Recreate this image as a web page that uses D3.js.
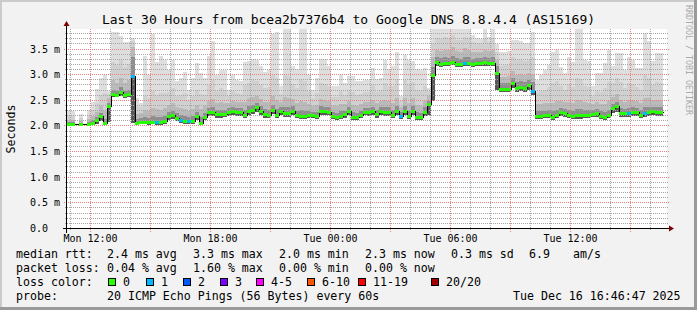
<!DOCTYPE html>
<html><head><meta charset="utf-8">
<script src="https://cdn.jsdelivr.net/npm/d3@7"></script>
<style>
html,body{margin:0;padding:0;background:#f2f2f2;}
svg{display:block;}
text{font-family:"DejaVu Sans Mono",monospace;fill:#000;}
</style></head><body>
<svg id="chart" width="697" height="310"></svg>
<script>
// ---------- data ----------
const titleText = "Last 30 Hours from bcea2b7376b4 to Google DNS 8.8.4.4 (AS15169)";
const yAxisLabel = "Seconds";
const yTickValues = [0, 0.5, 1.0, 1.5, 2.0, 2.5, 3.0, 3.5];
const yTickLabels = ["0.0", "0.5 m", "1.0 m", "1.5 m", "2.0 m", "2.5 m", "3.0 m", "3.5 m"];
const yMinorValues = [0.1,0.2,0.3,0.4,0.6,0.7,0.8,0.9,1.1,1.2,1.3,1.4,1.6,1.7,1.8,1.9,2.1,2.2,2.3,2.4,2.6,2.7,2.8,2.9,3.1,3.2,3.3,3.4,3.6,3.7,3.8];
const xTickTimes = ["2025-12-15 12:00:00", "2025-12-15 18:00:00", "2025-12-16 00:00:00", "2025-12-16 06:00:00", "2025-12-16 12:00:00"];
const xTickLabels = ["Mon 12:00", "Mon 18:00", "Tue 00:00", "Tue 06:00", "Tue 12:00"];
const rangeStartText = "2025-12-15 10:49:30";
const rangeEndText = "2025-12-16 16:49:30";
const binMinutes = 12;

// median rtt per bin (ms)
const median = [
2.04,2.04,2.04,2.04,2.04,2.04,2.06,2.12,2.20,2.06,
2.39,2.63,2.61,2.67,2.61,2.63,2.98,2.06,2.09,2.09,
2.09,2.09,2.09,2.08,2.10,2.20,2.22,2.17,2.12,2.10,
2.10,2.10,2.20,2.06,2.19,2.28,2.28,2.24,2.24,2.24,
2.28,2.31,2.28,2.28,2.22,2.31,2.32,2.38,2.31,2.24,
2.22,2.32,2.23,2.30,2.26,2.26,2.31,2.22,2.20,2.20,
2.22,2.22,2.20,2.30,2.30,2.29,2.20,2.19,2.21,2.24,
2.30,2.19,2.19,2.23,2.29,2.28,2.30,2.24,2.30,2.28,
2.29,2.23,2.30,2.20,2.30,2.20,2.30,2.18,2.18,2.28,
2.43,3.01,3.25,3.22,3.23,3.23,3.26,3.21,3.21,3.24,
3.24,3.21,3.23,3.24,3.25,3.24,3.24,3.04,2.73,2.73,
2.73,2.84,2.74,2.77,2.74,2.80,2.70,2.20,2.20,2.22,
2.22,2.18,2.22,2.28,2.26,2.22,2.20,2.22,2.22,2.22,
2.22,2.25,2.26,2.21,2.19,2.22,2.36,2.39,2.26,2.26,
2.26,2.28,2.28,2.22,2.26,2.28,2.30,2.28,2.28];

// lost pings per bin (of 20)
const lossCount = [
0,0,null,0,null,0,0,0,0,0,
0,0,0,0,0,0,1,0,0,0,
0,0,1,0,0,0,0,0,1,0,
1,0,0,0,0,0,0,0,0,0,
0,0,0,0,0,0,0,0,0,0,
0,0,0,0,0,0,0,0,0,0,
0,0,0,0,0,0,0,0,0,0,
0,0,0,0,0,0,0,0,0,0,
0,0,0,1,0,0,0,0,0,0,
0,0,0,0,0,0,0,0,0,1,
0,0,0,0,0,0,0,0,0,0,
0,0,0,0,0,0,1,0,0,0,
0,0,0,0,0,0,0,0,0,0,
0,0,0,0,0,0,0,0,0,0,
1,0,0,0,1,0,0,0,0];

// smoke: ping distribution per bin (ms)
const smokeMin = [
2.01,2.01,null,2.01,null,2.01,2.02,2.05,2.10,2.02,
2.08,2.58,2.57,2.60,2.56,2.58,2.06,2.02,2.04,2.04,
2.03,2.04,2.03,2.03,2.04,2.12,2.14,2.10,2.06,2.05,
2.05,2.05,2.12,2.02,2.12,2.20,2.20,2.17,2.17,2.18,
2.21,2.23,2.21,2.21,2.16,2.23,2.24,2.28,2.23,2.17,
2.16,2.24,2.16,2.23,2.18,2.18,2.23,2.16,2.14,2.14,
2.16,2.16,2.14,2.22,2.22,2.22,2.14,2.13,2.15,2.17,
2.22,2.13,2.13,2.16,2.22,2.21,2.22,2.17,2.22,2.20,
2.21,2.16,2.22,2.14,2.22,2.14,2.22,2.12,2.12,2.20,
2.22,2.50,3.18,3.16,3.17,3.17,3.19,3.15,3.15,3.17,
3.17,3.15,3.17,3.18,3.18,3.18,3.17,2.72,2.67,2.67,
2.67,2.74,2.68,2.70,2.68,2.72,2.62,2.14,2.14,2.16,
2.16,2.12,2.16,2.21,2.19,2.16,2.14,2.15,2.15,2.16,
2.16,2.18,2.19,2.15,2.13,2.16,2.26,2.28,2.19,2.19,
2.19,2.21,2.21,2.16,2.18,2.20,2.22,2.21,2.21];
const smokeP60 = [
2.08,2.08,null,2.07,null,2.09,2.12,2.18,2.26,2.14,
2.45,2.72,2.70,2.76,2.70,2.72,3.35,2.14,2.16,2.18,
2.17,2.20,2.18,2.18,2.20,2.28,2.30,2.26,2.22,2.20,
2.18,2.20,2.28,2.18,2.27,2.36,2.38,2.32,2.33,2.32,
2.35,2.38,2.36,2.35,2.32,2.40,2.42,2.46,2.40,2.34,
2.32,2.42,2.34,2.37,2.38,2.37,2.40,2.31,2.32,2.31,
2.30,2.29,2.28,2.39,2.38,2.37,2.28,2.27,2.30,2.31,
2.37,2.28,2.27,2.31,2.36,2.35,2.38,2.32,2.38,2.37,
2.37,2.32,2.40,2.28,2.40,2.30,2.40,2.28,2.27,2.37,
2.50,3.16,3.36,3.34,3.35,3.34,3.38,3.33,3.32,3.36,
3.35,3.32,3.33,3.34,3.36,3.34,3.35,3.18,2.84,2.84,
2.85,2.94,2.86,2.88,2.86,2.90,2.86,2.30,2.30,2.31,
2.32,2.30,2.33,2.36,2.34,2.33,2.30,2.34,2.34,2.32,
2.32,2.32,2.34,2.30,2.29,2.33,2.44,2.48,2.36,2.34,
2.36,2.37,2.36,2.32,2.38,2.38,2.38,2.37,2.37];
const smokeP75 = [
2.12,2.12,null,2.10,null,2.14,2.20,2.28,2.40,2.30,
2.55,2.90,2.85,2.95,2.85,2.90,3.55,2.24,2.26,2.32,
2.30,2.36,2.34,2.33,2.36,2.42,2.45,2.38,2.36,2.34,
2.30,2.34,2.42,2.34,2.40,2.50,2.54,2.46,2.48,2.46,
2.46,2.50,2.48,2.47,2.48,2.55,2.58,2.60,2.54,2.48,
2.48,2.60,2.52,2.48,2.58,2.56,2.54,2.46,2.50,2.48,
2.44,2.40,2.42,2.54,2.52,2.50,2.40,2.39,2.44,2.43,
2.49,2.42,2.40,2.43,2.48,2.47,2.52,2.45,2.50,2.52,
2.50,2.46,2.56,2.38,2.56,2.46,2.55,2.42,2.40,2.50,
2.60,3.35,3.50,3.48,3.50,3.49,3.54,3.47,3.46,3.52,
3.50,3.46,3.46,3.46,3.50,3.47,3.50,3.30,2.96,2.97,
2.98,3.08,3.00,3.02,3.00,3.04,3.02,2.44,2.44,2.45,
2.46,2.46,2.50,2.50,2.47,2.48,2.45,2.52,2.52,2.47,
2.46,2.44,2.47,2.44,2.44,2.50,2.58,2.64,2.52,2.48,
2.52,2.52,2.50,2.46,2.56,2.55,2.52,2.52,2.52];
const smokeP90 = [
2.20,2.20,null,2.16,null,2.22,2.32,2.45,2.62,2.65,
2.64,3.25,3.20,3.30,3.15,3.22,3.66,2.40,2.38,2.60,
2.55,2.70,2.62,2.65,2.66,2.68,2.75,2.60,2.62,2.66,
2.52,2.60,2.72,2.64,2.62,2.80,2.90,2.70,2.75,2.72,
2.60,2.70,2.66,2.64,2.80,2.85,2.90,2.88,2.80,2.74,
2.76,3.00,2.95,2.64,3.00,2.98,2.82,2.74,2.92,2.88,
2.70,2.56,2.66,2.84,2.82,2.78,2.58,2.58,2.70,2.62,
2.70,2.68,2.62,2.64,2.68,2.67,2.80,2.68,2.72,2.84,
2.78,2.78,2.92,2.50,2.90,2.82,2.86,2.72,2.70,2.78,
2.70,3.62,3.72,3.70,3.74,3.72,3.78,3.68,3.68,3.75,
3.72,3.64,3.62,3.62,3.72,3.64,3.72,3.45,3.18,3.20,
3.20,3.35,3.30,3.30,3.28,3.30,3.36,2.66,2.70,2.72,
2.76,2.84,2.88,2.78,2.72,2.82,2.76,2.95,2.92,2.78,
2.76,2.60,2.70,2.68,2.74,2.86,2.85,2.95,2.86,2.74,
2.84,2.82,2.76,2.72,3.00,2.94,2.80,2.86,2.84];
const smokeMax = [
2.32,2.30,null,2.25,null,2.32,2.48,2.73,2.95,3.00,
2.70,3.84,3.84,3.76,3.64,3.64,3.72,2.55,2.46,3.37,
3.00,3.80,3.25,3.37,3.30,3.11,3.30,2.88,2.95,3.07,
2.72,2.95,3.24,3.04,2.94,3.37,3.66,3.01,3.10,3.10,
2.72,3.00,2.90,2.88,3.25,3.28,3.32,3.30,3.17,3.07,
3.10,3.80,3.85,2.78,3.95,3.95,3.18,3.12,3.95,3.95,
3.00,2.72,2.95,3.31,3.31,3.17,2.78,2.78,3.01,2.85,
2.98,2.98,2.88,2.88,2.90,2.90,3.14,2.92,2.95,3.30,
3.12,3.17,3.46,2.60,3.40,3.30,3.27,3.12,3.10,3.14,
2.75,3.95,3.95,3.95,3.95,3.95,3.95,3.95,3.95,3.95,
3.95,3.78,3.72,3.70,3.95,3.75,3.95,3.60,3.46,3.46,
3.47,3.68,3.69,3.66,3.62,3.63,3.85,2.90,3.00,3.10,
3.20,3.45,3.50,3.15,3.05,3.35,3.25,3.95,3.95,3.30,
3.27,2.78,3.04,3.04,3.24,3.49,3.17,3.43,3.43,3.11,
3.36,3.30,3.14,3.14,3.82,3.66,3.27,3.43,3.43];

// loss colour legend
const lossLabels = ["0", "1", "2", "3", "4-5", "6-10", "11-19", "20/20"];
const lossColors = ["#26ff00", "#00b8ff", "#0059ff", "#7e00ff", "#ff00ff", "#ff5500", "#ff0000", "#a10000"];

// legend text
const rttStats = ["2.4 ms avg", "3.3 ms max", "2.0 ms min", "2.3 ms now", "0.3 ms sd", "6.9", "am/s"];
const lossStats = ["0.04 % avg", "1.60 % max", "0.00 % min", "0.00 % now"];
const probeText = "20 ICMP Echo Pings (56 Bytes) every 60s";
const stampText = "Tue Dec 16 16:46:47 2025";
const watermark = "RRDTOOL / TOBI OETIKER";

// ---------- drawing ----------
const W = 697, H = 310;
const X0 = 67, X1 = 667, Y0 = 229, Y1 = 29;
const svg = d3.select("#chart");
const parse = d3.timeParse("%Y-%m-%d %H:%M:%S");
const tStart = parse(rangeStartText), tEnd = parse(rangeEndText);
const x = d3.scaleTime().domain([tStart, tEnd]).range([X0, X1]);
const y = d3.scaleLinear().domain([0, 3.9]).range([Y0, Y1]);
const px = v => Math.floor(v) + 0.5;
const py = v => Math.round(v) - 0.5;

// background and 3D border
svg.append("rect").attr("width", W).attr("height", H).attr("fill", "#f2f2f2");
svg.append("rect").attr("x", 0).attr("y", 0).attr("width", W).attr("height", 2).attr("fill", "#cbcbcb");
svg.append("rect").attr("x", 0).attr("y", 0).attr("width", 2).attr("height", H).attr("fill", "#cbcbcb");
svg.append("rect").attr("x", 0).attr("y", H - 3).attr("width", W).attr("height", 3).attr("fill", "#9a9a9a");
svg.append("rect").attr("x", W - 3).attr("y", 0).attr("width", 3).attr("height", H).attr("fill", "#9a9a9a");

// canvas
svg.append("rect").attr("x", X0).attr("y", Y1).attr("width", X1 - X0).attr("height", Y0 - Y1).attr("fill", "#ffffff");
svg.append("clipPath").attr("id", "plotclip").append("rect")
  .attr("x", X0).attr("y", Y1).attr("width", X1 - X0).attr("height", Y0 - Y1);

const bins = median.map((m, i) => ({
  i, t0: d3.timeMinute.offset(tStart, i * binMinutes), t1: d3.timeMinute.offset(tStart, (i + 1) * binMinutes),
  med: m, loss: lossCount[i], lo: smokeMin[i], p60: smokeP60[i], p75: smokeP75[i], p90: smokeP90[i], max: smokeMax[i]
}));

// smoke layers
const smokeG = svg.append("g").attr("clip-path", "url(#plotclip)");
const layers = [
  {key: "max", fill: "#dedede"},
  {key: "p90", fill: "#d0d0d0"},
  {key: "p75", fill: "#bababa"},
  {key: "p60", fill: "#8e8e8e"},
  {key: "med", fill: "#585858"}
];
layers.forEach(L => {
  smokeG.append("g").attr("shape-rendering", "crispEdges").selectAll("rect")
    .data(bins.filter(b => b.lo != null && b[L.key] != null))
    .join("rect")
    .attr("x", b => Math.round(x(b.t0)))
    .attr("width", b => Math.round(x(b.t1)) - Math.round(x(b.t0)))
    .attr("y", b => Math.round(y(b[L.key])))
    .attr("height", b => Math.max(0, Math.round(y(b.lo)) - Math.round(y(b[L.key]))))
    .attr("fill", L.fill);
});

// grid (dotted): minor = gray, major = light red
const majorX = x.ticks(d3.timeHour.every(3));
const majorXset = new Set(majorX.map(d => +d));
const hourTicks = x.ticks(d3.timeHour.every(1)).filter(d => !majorXset.has(+d));
const minorCol = "#a6a6a6", majorCol = "#ee8080";
function dotted(g, cls, data, x1, x2, y1, y2, col) {
  g.selectAll("path." + cls).data(data).join("path").attr("class", cls)
    .attr("d", d => `M${x1(d)},${y1(d)}L${x2(d)},${y2(d)}`)
    .attr("fill", "none").attr("stroke", col).attr("stroke-width", 1).attr("stroke-dasharray", "1 1");
}
const grid = svg.append("g");
dotted(grid, "mx", hourTicks, d => px(x(d)), d => px(x(d)), () => Y1, () => Y0 + 2, minorCol);
dotted(grid, "my", yMinorValues, () => X0 - 2, () => X1 + 2, d => py(y(d)), d => py(y(d)), minorCol);
dotted(grid, "Mx", majorX, d => px(x(d)), d => px(x(d)), () => Y1, () => Y0 + 3, majorCol);
dotted(grid, "My", yTickValues.slice(1), () => X0 - 3, () => X1 + 3, d => py(y(d)), d => py(y(d)), majorCol);

// median line (black, step) + loss-coloured segments, above the grid
const medG = svg.append("g").attr("clip-path", "url(#plotclip)");
const linePts = bins.map(b => [Math.round(x(b.t0)) + 0.5, Math.round(y(b.med)) + 0.5]);
const last = bins[bins.length - 1];
linePts.push([Math.round(x(last.t1)) + 0.5, Math.round(y(last.med)) + 0.5]);
medG.append("path").attr("d", d3.line().curve(d3.curveStepAfter)(linePts))
  .attr("fill", "none").attr("stroke", "#000").attr("stroke-width", 1).attr("shape-rendering", "crispEdges");
medG.append("g").attr("shape-rendering", "crispEdges").selectAll("rect").data(bins.filter(b => b.loss != null)).join("rect")
  .attr("x", b => Math.round(x(b.t0))).attr("width", b => Math.round(x(b.t1)) - Math.round(x(b.t0)))
  .attr("y", b => Math.round(y(b.med)) - 1).attr("height", 3)
  .attr("fill", b => lossColors[b.loss]);

// axes
svg.append("line").attr("x1", X0 - 4).attr("x2", X1 + 2).attr("y1", Y0 - 0.5).attr("y2", Y0 - 0.5).attr("stroke", "#000");
svg.append("line").attr("x1", X0 - 0.5).attr("x2", X0 - 0.5).attr("y1", Y0 + 4).attr("y2", Y1 - 3).attr("stroke", "#000");
svg.append("path").attr("d", `M${X1 + 2},${Y0 - 3.5}L${X1 + 7},${Y0 - 0.5}L${X1 + 2},${Y0 + 2.5}Z`).attr("fill", "#7f0000");
svg.append("path").attr("d", `M${X0 - 3.5},${Y1 - 3}L${X0 - 0.5},${Y1 - 8}L${X0 + 2.5},${Y1 - 3}Z`).attr("fill", "#7f0000");

// y tick labels
svg.append("g").selectAll("text").data(yTickValues).join("text")
  .attr("x", 30).attr("y", d => py(y(d)) + 3.5)
  .style("font-size", "10px").text((d, i) => yTickLabels[i]);

// x tick labels
svg.append("g").selectAll("text").data(xTickTimes).join("text")
  .attr("x", d => px(x(parse(d)))).attr("y", 242).attr("text-anchor", "middle")
  .style("font-size", "10px").text((d, i) => xTickLabels[i]);

// title
svg.append("text").attr("x", 348.5).attr("y", 24).attr("text-anchor", "middle")
  .style("font-size", "13px").text(titleText);

// y axis label
svg.append("text").attr("transform", "translate(14.5,129) rotate(-90)").attr("text-anchor", "middle")
  .style("font-size", "11.6px").text(yAxisLabel);

// watermark
svg.append("text").attr("transform", "translate(685.5,5) rotate(90)")
  .style("font-size", "8.3px").style("fill", "#aaaaaa").text(watermark);

// legend
const lg = svg.append("g").style("font-size", "11.6px");
const statX = [107, 193, 279, 365, 451, 529, 573];
lg.append("text").attr("x", 16).attr("y", 258).text("median rtt:");
lg.selectAll("text.r").data(rttStats).join("text").attr("class", "r")
  .attr("x", (d, i) => statX[i]).attr("y", 258).text(d => d);
lg.append("text").attr("x", 16).attr("y", 272).text("packet loss:");
lg.selectAll("text.l").data(lossStats).join("text").attr("class", "l")
  .attr("x", (d, i) => statX[i]).attr("y", 272).text(d => d);
lg.append("text").attr("x", 16).attr("y", 286).text("loss color:");
const boxX = [108, 145.5, 182.5, 219.5, 256, 306.5, 357.5, 430.5];
lg.selectAll("rect.b").data(lossColors).join("rect").attr("class", "b")
  .attr("x", (d, i) => Math.round(boxX[i]) + 0.5).attr("y", 278.5).attr("width", 7).attr("height", 7)
  .attr("fill", d => d).attr("stroke", "#000");
lg.selectAll("text.c").data(lossLabels).join("text").attr("class", "c")
  .attr("x", (d, i) => Math.round(boxX[i]) + 15).attr("y", 286).text(d => d);
lg.append("text").attr("x", 16).attr("y", 300).text("probe:");
lg.append("text").attr("x", 107).attr("y", 300).text(probeText);
lg.append("text").attr("x", 513).attr("y", 300).text(stampText);
</script>
</body></html>
